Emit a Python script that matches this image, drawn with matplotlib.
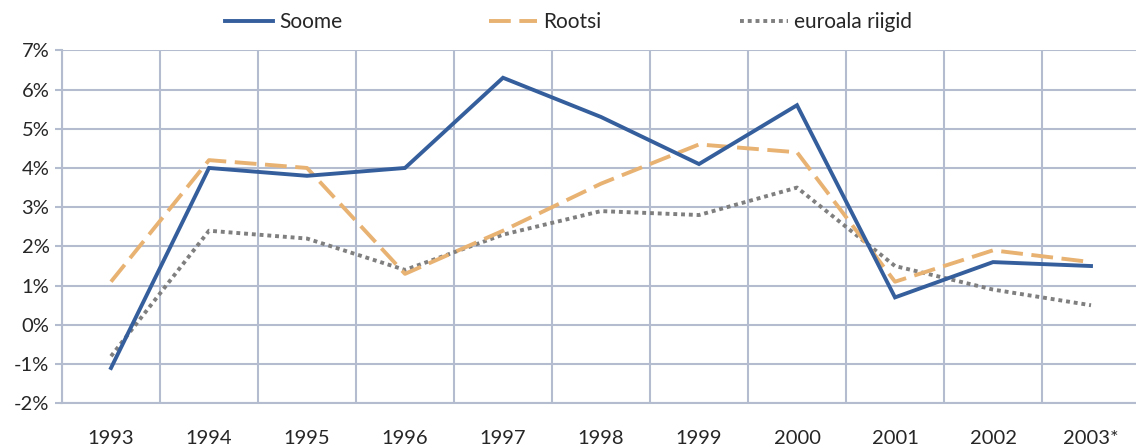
import matplotlib
matplotlib.use("Agg")
import matplotlib.pyplot as plt
from matplotlib.ticker import FuncFormatter, MultipleLocator

years = ["1993", "1994", "1995", "1996", "1997", "1998", "1999", "2000", "2001", "2002", "2003*"]
soome = [-1.1, 4.0, 3.8, 4.0, 6.3, 5.3, 4.1, 5.6, 0.7, 1.6, 1.5]
rootsi = [1.1, 4.2, 4.0, 1.3, 2.4, 3.6, 4.6, 4.4, 1.1, 1.9, 1.6]
euroala = [-0.8, 2.4, 2.2, 1.4, 2.3, 2.9, 2.8, 3.5, 1.5, 0.9, 0.5]
labels = ["Soome", "Rootsi", "euroala riigid"]

plt.rcParams['font.family'] = ['Lato', 'DejaVu Sans']

W, H = 1136, 448
fig = plt.figure(figsize=(W / 100, H / 100), dpi=100)
left, right, top, bottom = 62, 1140, 50.3, 403.3
ax = fig.add_axes([left / W, 1 - bottom / H, (right - left) / W, (bottom - top) / H])

grid_c = "#B4BCD0"
txt_c = "#262626"
x = list(range(len(years)))
l1, = ax.plot(x, soome, color="#355F9C", lw=2.8, solid_joinstyle="miter", label=labels[0], zorder=4)
l2, = ax.plot(x, rootsi, color="#E8B273", lw=2.8, dashes=(5.6, 2.2), label=labels[1], zorder=3)
l3, = ax.plot(x, euroala, color="#7F7F7F", lw=2.8, dashes=(1.0, 1.0), label=labels[2], zorder=2)

ax.set_xlim(-0.5, len(years) - 0.5)
ax.set_ylim(-2, 7)
ax.yaxis.set_major_locator(MultipleLocator(1))
ax.yaxis.set_major_formatter(FuncFormatter(lambda v, p: f"{int(round(v))}%"))
ax.set_xticks(x)
ax.set_xticklabels(years)
ax.set_xticks([i - 0.5 for i in range(len(years) + 1)], minor=True)

ax.grid(True, which="major", axis="y", color=grid_c, lw=1.5)
ax.grid(True, which="minor", axis="x", color=grid_c, lw=1.5)
ax.set_axisbelow(True)
for s in ["top", "right"]:
    ax.spines[s].set_visible(False)
for s in ["left", "bottom"]:
    ax.spines[s].set_color(grid_c)
    ax.spines[s].set_linewidth(1.5)

ax.tick_params(axis="y", which="major", length=5, width=1.5, color=grid_c,
               labelsize=14.5, labelcolor=txt_c, pad=4)
ax.tick_params(axis="x", which="major", length=0, labelsize=14.5, labelcolor=txt_c, pad=19)
ax.tick_params(axis="x", which="minor", length=0)

leg_x = [225, 489, 740]
for h, lx in zip([l1, l2, l3], leg_x):
    lg = fig.legend(handles=[h], loc="center left", bbox_to_anchor=(lx / W, 1 - 22 / H),
                    frameon=False, fontsize=15, handlelength=2.3, handletextpad=0.3,
                    borderpad=0, borderaxespad=0)
    for t in lg.get_texts():
        t.set_color(txt_c)

fig.savefig("out.png", dpi=100)
